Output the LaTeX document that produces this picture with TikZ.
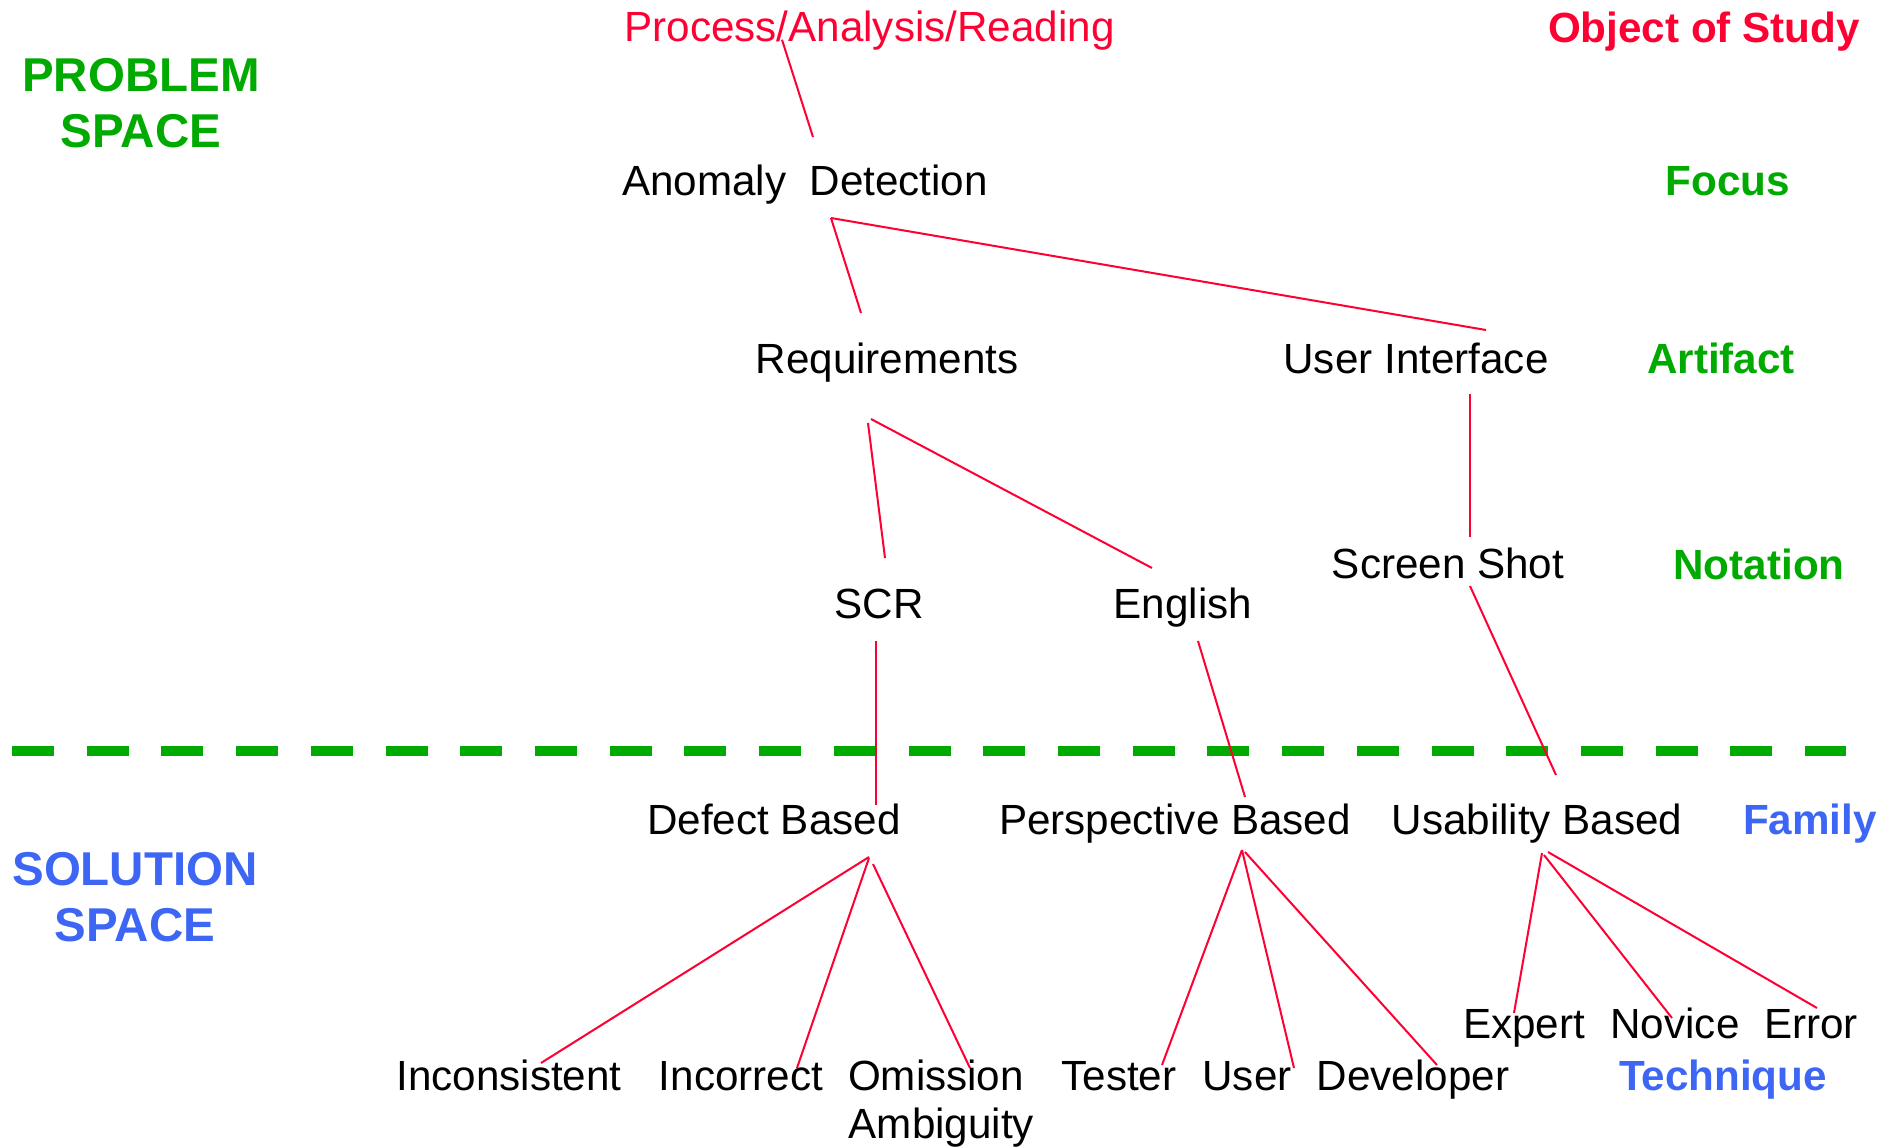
\documentclass[tikz,border=0pt]{standalone}
\usepackage{fontspec}
\setmainfont{Liberation Sans}
\usetikzlibrary{calc}
\definecolor{lred}{HTML}{FF0033}
\definecolor{lgreen}{HTML}{00AA00}
\definecolor{lblue}{HTML}{3D66F5}
\tikzset{
  t/.style={anchor=base, inner sep=0pt, font=\fontsize{12}{14}\selectfont},
  tr/.style={t, text=lred},
  lvl/.style={t, font=\fontsize{12}{14}\selectfont\bfseries, text=lgreen},
  lvlb/.style={lvl, text=lblue},
  space/.style={anchor=center, inner sep=0pt, align=center, font=\fontsize{13.5}{16}\selectfont\bfseries},
  lnk/.style={draw=lred, line width=0.57pt},
  split/.style={draw=lgreen, line width=0.107cm, dash pattern=on 0.42cm off 0.3267cm},
}
\begin{document}
\begin{tikzpicture}[x=0.01cm, y=-0.01cm]
\useasboundingbox (0,0) rectangle (1902,1148);

% ---- side labels ----
\node[space, text=lgreen] (prob) at (141,103) {PROBLEM\\SPACE};
\node[space, text=lblue]  (sol)  at (135,897) {SOLUTION\\SPACE};

% ---- level names (right) ----
\node[tr, font=\fontsize{12}{14}\selectfont\bfseries] (obj) at (1704,42) {Object of Study};
\node[lvl]  (focus)    at (1728,195) {Focus};
\node[lvl]  (artifact) at (1721,373) {Artifact};
\node[lvl]  (notation) at (1759,579) {Notation};
\node[lvlb] (family)   at (1810,834) {Family};
\node[lvlb] (technique) at (1723,1090) {Technique};

% ---- problem space ----
\node[tr] (proc) at (869.5,41.7) {Process/Analysis/Reading};
\node[t] (anom) at (805,195) {Anomaly\ \ Detection};
\node[t] (req)  at (887,373) {Requirements};
\node[t] (ui)   at (1416,373) {User Interface};
\node[t] (scr)  at (879,618) {SCR};
\node[t] (eng)  at (1183,618) {English};
\node[t] (shot) at (1448,578) {Screen Shot};

% ---- solution space ----
\node[t] (defect) at (774,834) {Defect Based};
\node[t] (persp)  at (1175,834) {Perspective Based};
\node[t] (usab)   at (1537,834) {Usability Based};

\node[t] (incons) at (509,1090) {Inconsistent};
\node[t] (incor)  at (741,1090) {Incorrect};
\node[t] (omis)   at (936,1090) {Omission};
\node[t, anchor=base west] (ambig) at (848,1138) {Ambiguity};
\node[t] (tester) at (1119,1090) {Tester};
\node[t] (user)   at (1247,1090) {User};
\node[t] (dev)    at (1413,1090) {Developer};
\node[t] (expert) at (1524,1038) {Expert};
\node[t] (novice) at (1675,1038) {Novice};
\node[t] (error)  at (1811,1038) {Error};

% ---- divider ----
\coordinate (cutl) at (12,751);
\coordinate (cutr) at (1846,751);
\draw[split] (cutl) -- (cutr);

% ---- edges ----
\draw[lnk] ([shift={(-87.5,-2)}]proc.base) -- ([shift={(8,-58)}]anom.base);
\draw[lnk] ([shift={(26,23)}]anom.base) -- ([shift={(-26,-60)}]req.base);
\draw[lnk] ([shift={(26,23)}]anom.base) -- ([shift={(70,-43)}]ui.base);
\draw[lnk] ([shift={(54,21)}]ui.base) -- ([shift={(22,-41)}]shot.base);
\draw[lnk] ([shift={(-19,50)}]req.base) -- ([shift={(6,-60)}]scr.base);
\draw[lnk] ([shift={(-16,46)}]req.base) -- ([shift={(-31,-50)}]eng.base);
\draw[lnk] ([shift={(-3,23)}]scr.base) -- ([shift={(102,-29)}]defect.base);
\draw[lnk] ([shift={(15,23)}]eng.base) -- ([shift={(70,-37)}]persp.base);
\draw[lnk] ([shift={(22,8)}]shot.base) -- ([shift={(19,-59)}]usab.base);

\draw[lnk] ([shift={(95,23)}]defect.base) -- ([shift={(32,-27)}]incons.base);
\draw[lnk] ([shift={(95,24)}]defect.base) -- ([shift={(56,-22)}]incor.base);
\draw[lnk] ([shift={(99,30)}]defect.base) -- ([shift={(34,-22)}]omis.base);
\draw[lnk] ([shift={(67,16)}]persp.base) -- ([shift={(43,-25)}]tester.base);
\draw[lnk] ([shift={(67,16)}]persp.base) -- ([shift={(47,-22)}]user.base);
\draw[lnk] ([shift={(70,18)}]persp.base) -- ([shift={(24,-25)}]dev.base);
\draw[lnk] ([shift={(5,19)}]usab.base) -- ([shift={(-10,-25)}]expert.base);
\draw[lnk] ([shift={(7,21)}]usab.base) -- ([shift={(-3,-20)}]novice.base);
\draw[lnk] ([shift={(11,18)}]usab.base) -- ([shift={(6,-30)}]error.base);
\end{tikzpicture}
\end{document}
